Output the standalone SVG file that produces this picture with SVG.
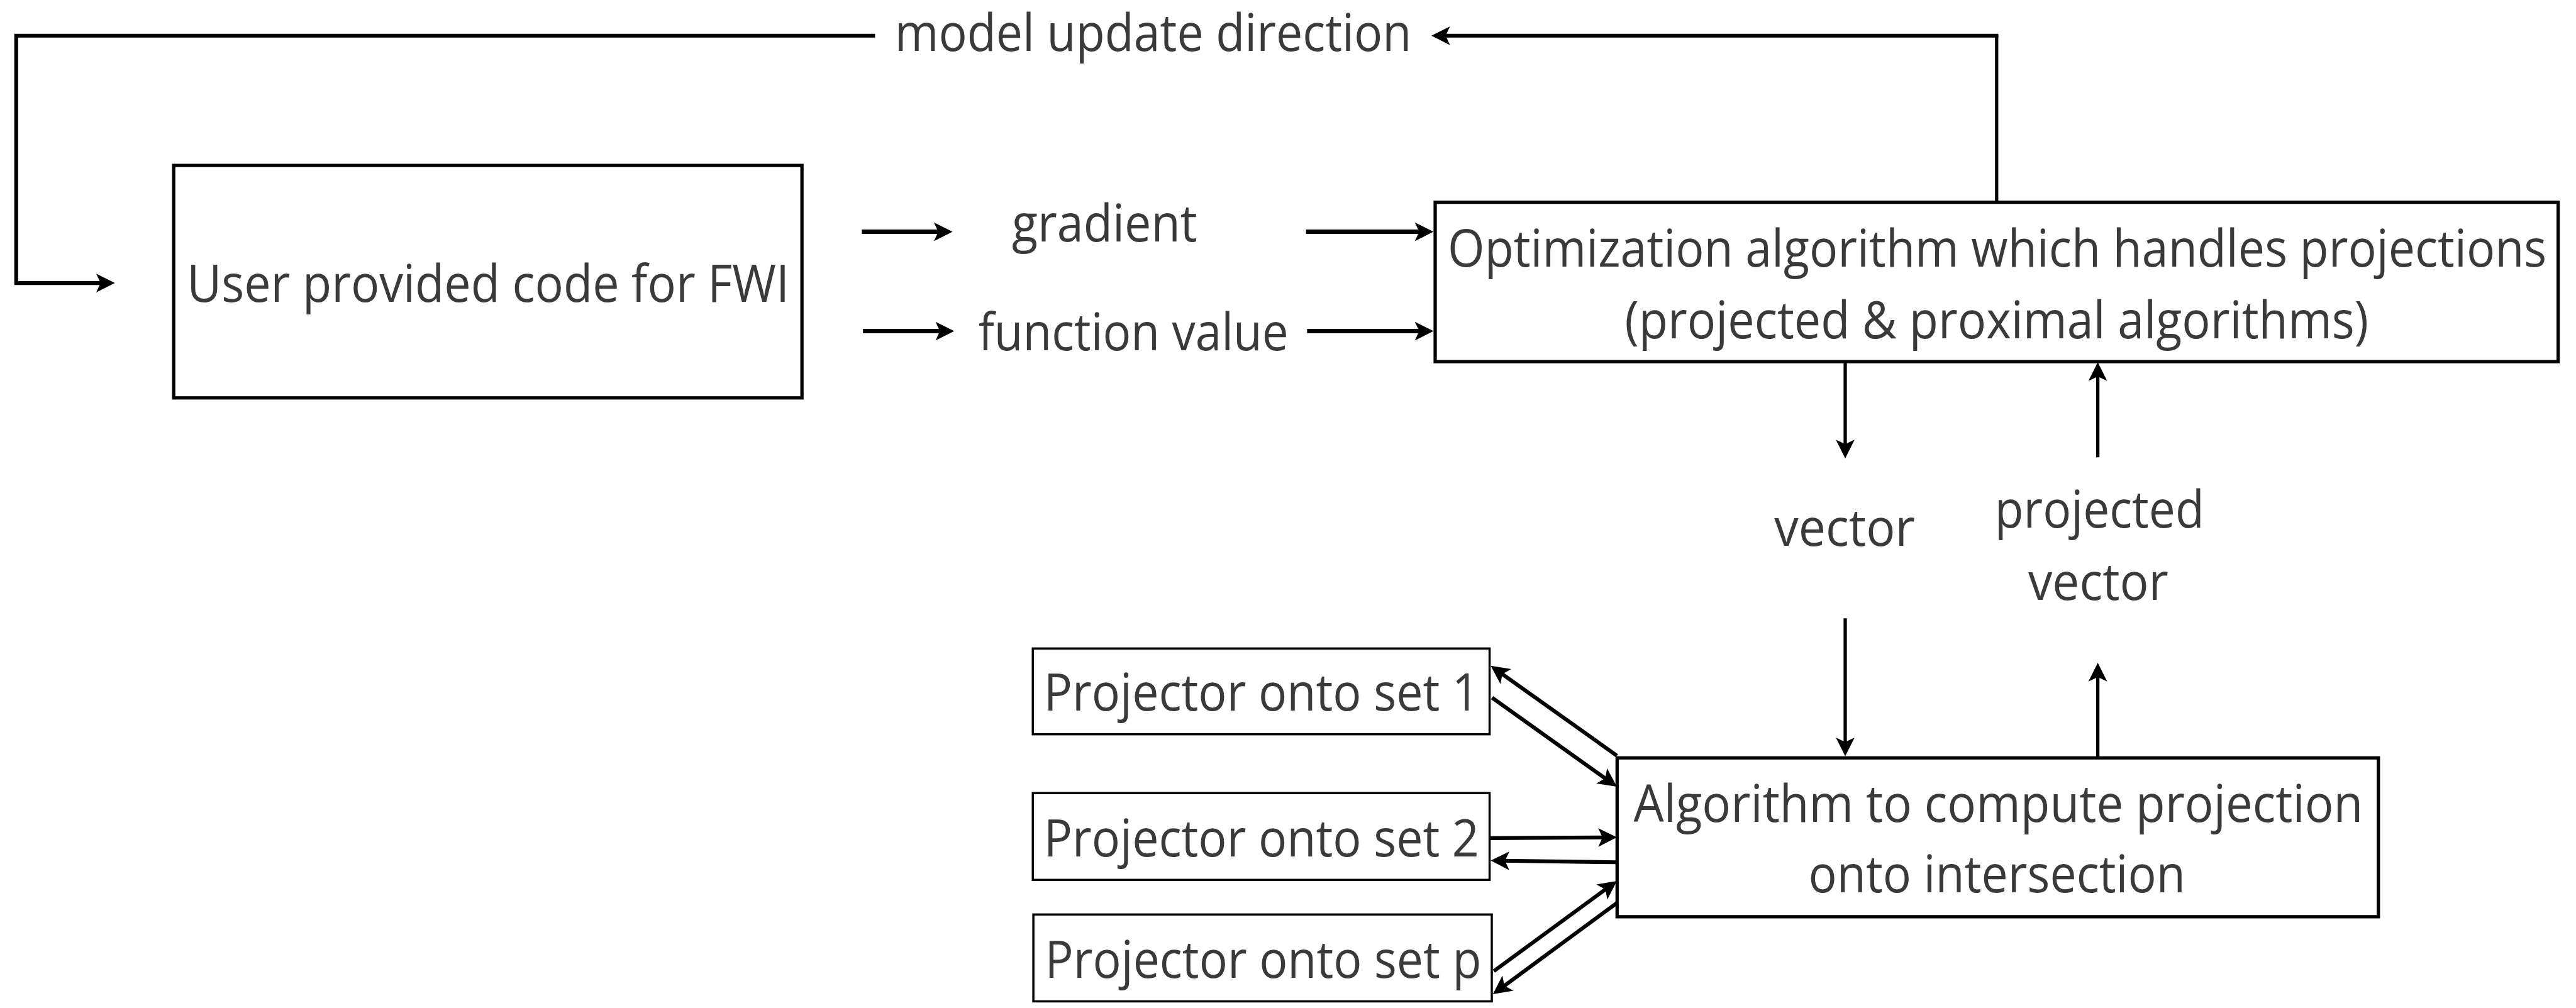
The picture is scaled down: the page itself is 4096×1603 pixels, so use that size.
<svg xmlns="http://www.w3.org/2000/svg" width="4096" height="1603" viewBox="0 0 4096 1603">
<style>
.t{font-family:"Open Sans","Liberation Sans",sans-serif;font-size:94px;fill:#3a3a3a}
.box{fill:#fff;stroke:#000;stroke-width:6}
.pbox{fill:#fff;stroke:#000;stroke-width:4}
.c{fill:none;stroke:#000;stroke-linecap:butt}
</style>
<defs>
<marker id="ah" viewBox="-16 -19 38 38" markerWidth="38" markerHeight="38" refX="0" refY="0" orient="auto" markerUnits="userSpaceOnUse">
<path d="M20,0 L-14,-17 L-6,0 L-14,17 Z" fill="#000"/>
</marker>
</defs>
<rect width="4096" height="1603" fill="#fff"/>
<g transform="scale(0.874)">
<g id="connectors">
<path class="c" d="M1592,65 L29.5,65 L29.5,515 L189,515" stroke-width="7" marker-end="url(#ah)"/>
<path class="c" d="M3632.5,368 L3632.5,65" stroke-width="6"/>
<path class="c" d="M3635.5,65 L2624,65" stroke-width="7" marker-end="url(#ah)"/>
<path class="c" d="M1568,421.7 L1713,421.7" stroke-width="8" marker-end="url(#ah)"/>
<path class="c" d="M2376,421.7 L2588,421.7" stroke-width="8" marker-end="url(#ah)"/>
<path class="c" d="M1570,602.5 L1716,602.5" stroke-width="8" marker-end="url(#ah)"/>
<path class="c" d="M2378,602.5 L2588,602.5" stroke-width="8" marker-end="url(#ah)"/>
<path class="c" d="M3357,659 L3357,814" stroke-width="6" marker-end="url(#ah)"/>
<path class="c" d="M3816.5,832 L3816.5,679" stroke-width="6" marker-end="url(#ah)"/>
<path class="c" d="M3357,1125 L3357,1356" stroke-width="6" marker-end="url(#ah)"/>
<path class="c" d="M3816.5,1379 L3816.5,1226" stroke-width="6" marker-end="url(#ah)"/>
<path class="c" d="M2941.6,1375 L2728.3,1223" stroke-width="7" marker-end="url(#ah)"/>
<path class="c" d="M2714.5,1269.5 L2925.3,1419.8" stroke-width="7" marker-end="url(#ah)"/>
<path class="c" d="M2710,1525 L2921.6,1523.7" stroke-width="7" marker-end="url(#ah)"/>
<path class="c" d="M2941.6,1569 L2732,1566" stroke-width="7" marker-end="url(#ah)"/>
<path class="c" d="M2717.7,1767 L2925.5,1614.8" stroke-width="7" marker-end="url(#ah)"/>
<path class="c" d="M2941.6,1643 L2732.1,1797.1" stroke-width="7" marker-end="url(#ah)"/>
</g>
<g id="label-model-update">
<text class="t" x="1628" y="93" textLength="940" lengthAdjust="spacingAndGlyphs">model update direction</text>
</g>
<g id="label-gradient">
<text class="t" x="1841" y="439" textLength="337" lengthAdjust="spacingAndGlyphs">gradient</text>
</g>
<g id="label-function-value">
<text class="t" x="1780" y="637" textLength="564" lengthAdjust="spacingAndGlyphs">function value</text>
</g>
<g id="label-vector">
<text class="t" x="3228" y="993" textLength="256" lengthAdjust="spacingAndGlyphs">vector</text>
</g>
<g id="label-projected-vector">
<text class="t" x="3629" y="960" textLength="381" lengthAdjust="spacingAndGlyphs">projected</text>
<text class="t" x="3690" y="1092" textLength="255" lengthAdjust="spacingAndGlyphs">vector</text>
</g>
<g id="node-user">
<rect class="box" x="316" y="301" width="1143" height="423"/>
<text class="t" x="340" y="549" textLength="1096" lengthAdjust="spacingAndGlyphs">User provided code for FWI</text>
</g>
<g id="node-optimization">
<rect class="box" x="2611" y="368" width="2043" height="290"/>
<text class="t" x="2634" y="485" textLength="1999" lengthAdjust="spacingAndGlyphs">Optimization algorithm which handles projections</text>
<text class="t" x="2956" y="615" textLength="1353" lengthAdjust="spacingAndGlyphs">(projected &amp; proximal algorithms)</text>
</g>
<g id="node-algorithm">
<rect class="box" x="2942" y="1379" width="1385" height="289"/>
<text class="t" x="2972" y="1495" textLength="1327" lengthAdjust="spacingAndGlyphs">Algorithm to compute projection</text>
<text class="t" x="3290" y="1623" textLength="686" lengthAdjust="spacingAndGlyphs">onto intersection</text>
</g>
<g id="node-proj1">
<rect class="pbox" x="1879" y="1180" width="831" height="156"/>
<text class="t" x="1899" y="1293" textLength="792" lengthAdjust="spacingAndGlyphs">Projector onto set 1</text>
</g>
<g id="node-proj2">
<rect class="pbox" x="1879" y="1443" width="831" height="158"/>
<text class="t" x="1899" y="1558" textLength="792" lengthAdjust="spacingAndGlyphs">Projector onto set 2</text>
</g>
<g id="node-projp">
<rect class="pbox" x="1880" y="1664" width="834" height="158"/>
<text class="t" x="1901" y="1779" textLength="794" lengthAdjust="spacingAndGlyphs">Projector onto set p</text>
</g>
</g>
</svg>
